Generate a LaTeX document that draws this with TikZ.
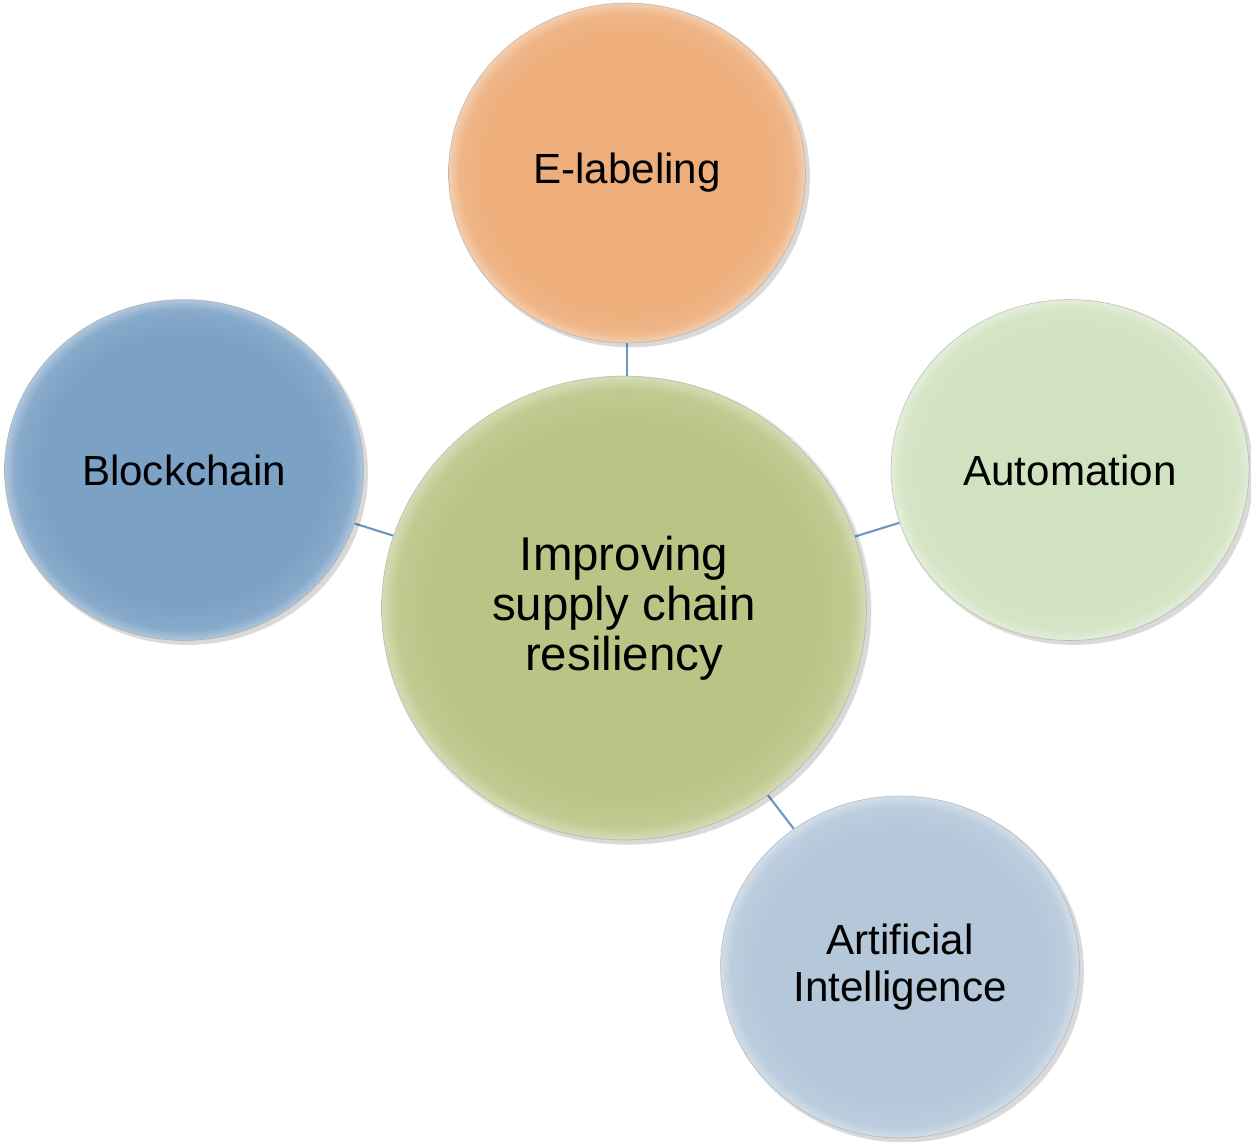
\documentclass[tikz,border=0pt]{standalone}
\usepackage{fontspec}
\setmainfont{Liberation Sans}
\usetikzlibrary{shapes.geometric,shadows,backgrounds}
\colorlet{bub}{white}
\pgfdeclareradialshading[bub]{bubshade}{\pgfpoint{0bp}{0bp}}{color(0bp)=(bub); color(20bp)=(bub); color(23.5bp)=(bub!90!white); color(25bp)=(bub!60!white); color(50bp)=(bub!60!white)}
\definecolor{elab}{HTML}{EDAE7B}
\definecolor{bchain}{HTML}{7BA1C5}
\definecolor{autom}{HTML}{D1E2C0}
\definecolor{cent}{HTML}{BAC485}
\definecolor{aint}{HTML}{B4C8DA}
\definecolor{link}{HTML}{6C97C1}
\tikzset{
  bubble/.style={ellipse, inner sep=0pt, align=center, text=black,
    font=\fontsize{24}{27}\selectfont,
    bubcol/.code={\colorlet{bub}{#1}}, bubcol=#1,
    shading=bubshade,
    draw=black!40, draw opacity=0.5, line width=0.4pt,
    general shadow={shadow xshift=1.5pt, shadow yshift=-1.5pt, fill=black, opacity=0.08, shadow scale=1.01},
    drop shadow={shadow xshift=2.5pt, shadow yshift=-2.5pt, opacity=0.08, fill=black}},
  linkline/.style={draw=link, line width=1.2pt}
}
\begin{document}
\begin{tikzpicture}[x=0.02cm, y=-0.02cm]
\useasboundingbox (0,0) rectangle (1251,1142);
\node[bubble=elab, minimum width=7.14cm, minimum height=6.8cm] (el) at (627,173) {E-labeling};
\node[bubble=bchain, minimum width=7.18cm, minimum height=6.82cm] (bc) at (184,470) {Blockchain};
\node[bubble=autom, minimum width=7.16cm, minimum height=6.82cm] (au) at (1070,470) {Automation};
\node[bubble=cent, minimum width=9.7cm, minimum height=9.28cm, font=\fontsize{27}{28.5}\selectfont] (ce) at (624,608) {Improving\\supply chain\\resiliency};
\node[bubble=aint, minimum width=7.18cm, minimum height=6.84cm, font=\fontsize{24}{26.8}\selectfont] (ai) at (900,967) {Artificial\\Intelligence};
\begin{scope}[on background layer]
\draw[linkline] (el.south) -- (el.south |- ce.north);
\draw[linkline] (bc) -- (ce);
\draw[linkline] (au) -- (ce);
\draw[linkline] (ai) -- (ce);
\end{scope}
\end{tikzpicture}
\end{document}
